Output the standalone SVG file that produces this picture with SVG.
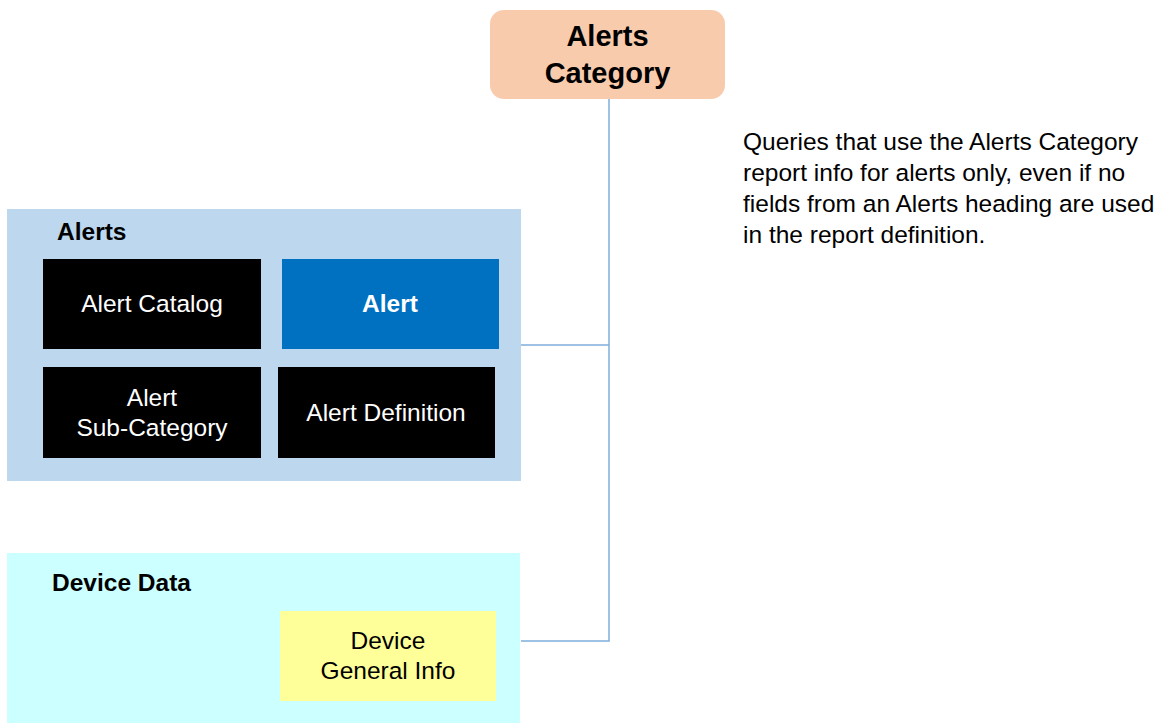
<svg xmlns="http://www.w3.org/2000/svg" width="1172" height="724" viewBox="0 0 1172 724">
<style>
text{font-family:"Liberation Sans",Arial,sans-serif;}
.w{fill:#fff;font-size:24.5px;text-anchor:middle;}
.k{fill:#000;font-size:24.5px;text-anchor:middle;}
.h{fill:#000;font-size:24.5px;font-weight:bold;}
.blk{fill:#000;}
.conn{fill:none;stroke:#7FAEDB;stroke-width:1.5;}
.note{fill:#000;font-size:24.5px;}
</style>
<rect width="1172" height="724" fill="#fff"/>
<g id="connectors">
<polyline class="conn" points="609,99 609,641 521,641"/>
<line class="conn" x1="521" y1="345" x2="609" y2="345"/>
</g>
<g id="alerts-category">
<rect x="490" y="10" width="235" height="89" rx="14" fill="#F8CBAD"/>
<text x="607.5" y="46" text-anchor="middle" font-size="29" font-weight="bold">Alerts</text>
<text x="607.5" y="83" text-anchor="middle" font-size="29" font-weight="bold">Category</text>
</g>
<g id="alerts-group">
<rect x="7" y="209" width="514" height="272" fill="#BDD7EE"/>
<text class="h" x="57" y="240">Alerts</text>
</g>
<g id="alert-catalog">
<rect class="blk" x="43" y="259" width="218" height="90"/>
<text class="w" x="152" y="312">Alert Catalog</text>
</g>
<g id="alert">
<rect x="282" y="259" width="217" height="90" fill="#0070C0"/>
<text class="w" x="390" y="312" font-weight="bold">Alert</text>
</g>
<g id="alert-sub-category">
<rect class="blk" x="43" y="367" width="218" height="91"/>
<text class="w" x="152" y="406">Alert</text>
<text class="w" x="152" y="436">Sub-Category</text>
</g>
<g id="alert-definition">
<rect class="blk" x="278" y="367" width="217" height="91"/>
<text class="w" x="386" y="421">Alert Definition</text>
</g>
<g id="device-data-group">
<rect x="7" y="553" width="513" height="170" fill="#CCFFFF"/>
<text class="h" x="52" y="591">Device Data</text>
</g>
<g id="device-general-info">
<rect x="280" y="611" width="216" height="90" fill="#FFFF99"/>
<text class="k" x="388" y="649">Device</text>
<text class="k" x="388" y="679">General Info</text>
</g>
<g id="note">
<text class="note" x="743" y="150">Queries that use the Alerts Category</text>
<text class="note" x="743" y="181">report info for alerts only, even if no</text>
<text class="note" x="743" y="212">fields from an Alerts heading are used</text>
<text class="note" x="743" y="243">in the report definition.</text>
</g>
</svg>
